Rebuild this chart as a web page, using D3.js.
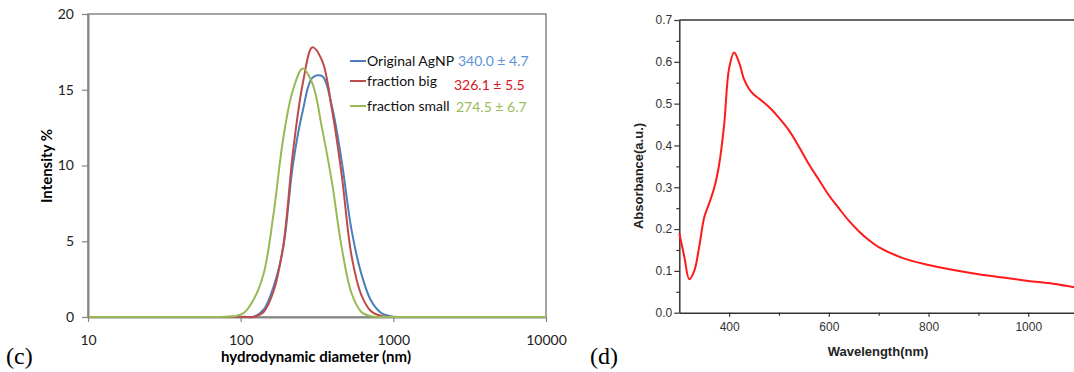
<!DOCTYPE html>
<html>
<head>
<meta charset="utf-8">
<script src="https://cdn.jsdelivr.net/npm/d3@7"></script>
<style>
  body { margin: 0; background: #fff; }
  svg { display: block; }
</style>
</head>
<body>
<svg id="fig" width="1074" height="372"></svg>
<script>
// ---- (c) DLS size distribution ----
const sizeBins = [10.1, 11.7, 13.54, 15.69, 18.17, 21.04, 24.36, 28.21, 32.67, 37.84,
  43.82, 50.75, 58.77, 68.06, 78.82, 91.28, 105.7, 122.4, 141.8, 164.2,
  190.1, 220.2, 255.0, 295.3, 342.0, 396.1, 458.7, 531.2, 615.1, 712.4,
  825.0, 955.4, 1106, 1281, 1484, 1718, 1990, 2305, 2669, 3091,
  3580, 4145, 4801, 5560, 6439, 7456, 8635, 10000];

const intensityOriginal = [0, 0, 0, 0, 0, 0, 0, 0, 0, 0,
  0, 0, 0, 0, 0, 0, 0, 0.02, 0.5, 2.0,
  4.6, 10.1, 13.6, 15.8, 15.9, 13.9, 10.3, 5.8, 2.9, 1.1,
  0.3, 0.05, 0, 0, 0, 0, 0, 0, 0, 0,
  0, 0, 0, 0, 0, 0, 0, 0];

const intensityBig = [0, 0, 0, 0, 0, 0, 0, 0, 0, 0,
  0, 0, 0, 0, 0, 0.02, 0.01, 0.02, 0.35, 1.7,
  4.7, 10.9, 15.4, 17.8, 16.9, 13.7, 9.4, 4.1, 1.5, 0.4,
  0.08, 0, 0, 0, 0, 0, 0, 0, 0, 0,
  0, 0, 0, 0, 0, 0, 0, 0];

const intensitySmall = [0, 0, 0, 0, 0, 0, 0, 0, 0, 0,
  0, 0, 0, 0, 0.02, 0.05, 0.3, 1.2, 2.9, 6.8,
  11.8, 15.0, 16.4, 15.4, 12.4, 8.9, 4.6, 1.6, 0.35, 0.05,
  0, 0, 0, 0, 0, 0, 0, 0, 0, 0,
  0, 0, 0, 0, 0, 0, 0, 0];

const seriesNames = ["Original AgNP", "fraction big", "fraction small"];
const seriesMeans = ["340.0 \u00b1 4.7", "326.1 \u00b1 5.5", "274.5 \u00b1 6.7"];
const intensityTicks = [0, 5, 10, 15, 20];
const diameterTicks = [10, 100, 1000, 10000];

// ---- (d) UV-Vis absorbance spectrum ----
const wavelength = [300, 310, 320, 330, 340, 350, 360, 370, 380, 390,
  400, 410, 420, 430, 440, 450, 460, 480, 500, 520,
  540, 560, 580, 600, 620, 640, 660, 680, 700, 750,
  800, 850, 900, 950, 1000, 1050, 1100];
const absorbance = [0.190, 0.134, 0.080, 0.100, 0.158, 0.228, 0.262, 0.298, 0.355, 0.450,
  0.585, 0.622, 0.598, 0.558, 0.535, 0.521, 0.512, 0.492, 0.466, 0.436,
  0.397, 0.355, 0.318, 0.281, 0.250, 0.220, 0.195, 0.174, 0.157, 0.130,
  0.114, 0.102, 0.092, 0.084, 0.076, 0.069, 0.059];
const absTicks = [0.0, 0.1, 0.2, 0.3, 0.4, 0.5, 0.6, 0.7];
const absMinorTicks = [0.05, 0.15, 0.25, 0.35, 0.45, 0.55, 0.65];
const wavelengthTicks = [400, 600, 800, 1000];
const wavelengthMinorTicks = [500, 700, 900, 1100];

const svg = d3.select("#fig");

// ================= panel (c) =================
const calibri = "Lato, 'Open Sans', sans-serif";
const xC = d3.scaleLog().domain([10, 10000]).range([88, 546]);
const yC = d3.scaleLinear().domain([0, 20]).range([317, 14]);
const gC = svg.append("g");
const axisGrey = "#868686";

// plot frame
gC.append("rect")
  .attr("x", xC.range()[0]).attr("y", yC.range()[1])
  .attr("width", xC.range()[1] - xC.range()[0])
  .attr("height", yC.range()[0] - yC.range()[1])
  .attr("fill", "none").attr("stroke", axisGrey).attr("stroke-width", 1.5);

const yAxisC = gC.append("g")
  .attr("transform", `translate(${xC.range()[0]},0)`)
  .call(d3.axisLeft(yC).tickValues(intensityTicks).tickSize(6).tickSizeOuter(0).tickPadding(8));
const xAxisC = gC.append("g")
  .attr("transform", `translate(0,${yC.range()[0]})`)
  .call(d3.axisBottom(xC).tickValues(diameterTicks).tickFormat(d3.format("d"))
    .tickSize(5).tickSizeOuter(0).tickPadding(13));
[yAxisC, xAxisC].forEach(a => {
  a.select(".domain").attr("stroke", axisGrey).attr("stroke-width", 2);
  a.selectAll(".tick line").attr("stroke", axisGrey).attr("stroke-width", 1.2);
  a.selectAll(".tick text").attr("font-family", calibri).attr("font-size", 14).attr("fill", "#222");
});

const lineC = d3.line()
  .x((d, i) => xC(sizeBins[i]))
  .y(d => yC(Math.max(0, d)))
  .curve(d3.curveCatmullRom.alpha(0.5));

const seriesData = [intensityOriginal, intensityBig, intensitySmall];
const lineColors = ["#4A7EBB", "#BE4B48", "#98B954"];
const meanColors = ["#5B93DA", "#D9141E", "#9BBB59"];

seriesData.forEach((s, k) => {
  gC.append("path")
    .attr("d", lineC(s))
    .attr("fill", "none")
    .attr("stroke", lineColors[k])
    .attr("stroke-width", 2)
    .attr("stroke-linejoin", "round");
});

// legend with mean sizes
const legendRows = [61, 81, 106];
const meanOffsets = [0, 4, 1];
const meanX = [458, 454, 456];
seriesNames.forEach((name, k) => {
  const yRow = legendRows[k];
  gC.append("line")
    .attr("x1", 350).attr("x2", 366).attr("y1", yRow).attr("y2", yRow)
    .attr("stroke", lineColors[k]).attr("stroke-width", 2);
  gC.append("text")
    .attr("x", 367).attr("y", yRow + 5)
    .attr("font-family", calibri).attr("font-size", 14).attr("fill", "#111")
    .text(name);
  gC.append("text")
    .attr("x", meanX[k]).attr("y", yRow + 5 + meanOffsets[k])
    .attr("font-family", calibri).attr("font-size", 14).attr("fill", meanColors[k])
    .text(seriesMeans[k]);
});

gC.append("text")
  .attr("transform", "translate(52,166) rotate(-90)")
  .attr("text-anchor", "middle")
  .attr("font-family", calibri).attr("font-weight", "bold").attr("font-size", 15)
  .text("Intensity %");
gC.append("text")
  .attr("x", 316).attr("y", 362)
  .attr("text-anchor", "middle")
  .attr("font-family", calibri).attr("font-weight", "bold").attr("font-size", 15)
  .text("hydrodynamic diameter (nm)");
gC.append("text")
  .attr("x", 6).attr("y", 364)
  .attr("font-family", "'Liberation Serif', 'DejaVu Serif', serif").attr("font-size", 24)
  .text("(c)");

// ================= panel (d) =================
const arial = "'Liberation Sans', Arial, sans-serif";
const xD = d3.scaleLinear().domain([300, 1100]).range([679.3, 1078.1]);
const yD = d3.scaleLinear().domain([0, 0.7]).range([312.7, 20]);
const gD = svg.append("g");
const darkAxis = "#333";

// top frame line
gD.append("line")
  .attr("x1", xD.range()[0]).attr("x2", xD.range()[1])
  .attr("y1", yD.range()[1]).attr("y2", yD.range()[1])
  .attr("stroke", darkAxis).attr("stroke-width", 1.5);

const yAxisD = gD.append("g")
  .attr("transform", `translate(${xD.range()[0]},0)`)
  .call(d3.axisLeft(yD).tickValues(absTicks).tickFormat(d3.format(".1f"))
    .tickSize(5).tickSizeOuter(0).tickPadding(2));
const xAxisD = gD.append("g")
  .attr("transform", `translate(0,${yD.range()[0]})`)
  .call(d3.axisBottom(xD).tickValues(wavelengthTicks).tickFormat(d3.format("d"))
    .tickSize(4).tickSizeOuter(0).tickPadding(6));
gD.append("g")
  .attr("transform", `translate(${xD.range()[0]},0)`)
  .call(d3.axisLeft(yD).tickValues(absMinorTicks).tickFormat("").tickSize(3).tickSizeOuter(0))
  .call(a => a.select(".domain").remove());
gD.append("g")
  .attr("transform", `translate(0,${yD.range()[0]})`)
  .call(d3.axisBottom(xD).tickValues(wavelengthMinorTicks).tickFormat("").tickSize(3).tickSizeOuter(0))
  .call(a => a.select(".domain").remove());
gD.selectAll(".domain").attr("stroke", darkAxis).attr("stroke-width", 1.5);
gD.selectAll(".tick line").attr("stroke", darkAxis).attr("stroke-width", 1.2);
gD.selectAll(".tick text").attr("font-family", arial).attr("font-size", 12).attr("fill", "#333");

const lineD = d3.line()
  .x((d, i) => xD(wavelength[i]))
  .y(d => yD(d))
  .curve(d3.curveCatmullRom.alpha(0.5));
gD.append("path")
  .attr("d", lineD(absorbance))
  .attr("fill", "none")
  .attr("stroke", "#FF1A1A")
  .attr("stroke-width", 2)
  .attr("stroke-linejoin", "round");

gD.append("text")
  .attr("transform", "translate(643,176) rotate(-90)")
  .attr("text-anchor", "middle")
  .attr("font-family", arial).attr("font-weight", "bold").attr("font-size", 13)
  .attr("fill", "#222")
  .text("Absorbance(a.u.)");
gD.append("text")
  .attr("x", 878).attr("y", 356)
  .attr("text-anchor", "middle")
  .attr("font-family", arial).attr("font-weight", "bold").attr("font-size", 13)
  .attr("fill", "#222")
  .text("Wavelength(nm)");
gD.append("text")
  .attr("x", 590).attr("y", 364)
  .attr("font-family", "'Liberation Serif', 'DejaVu Serif', serif").attr("font-size", 24)
  .text("(d)");
</script>
</body>
</html>
